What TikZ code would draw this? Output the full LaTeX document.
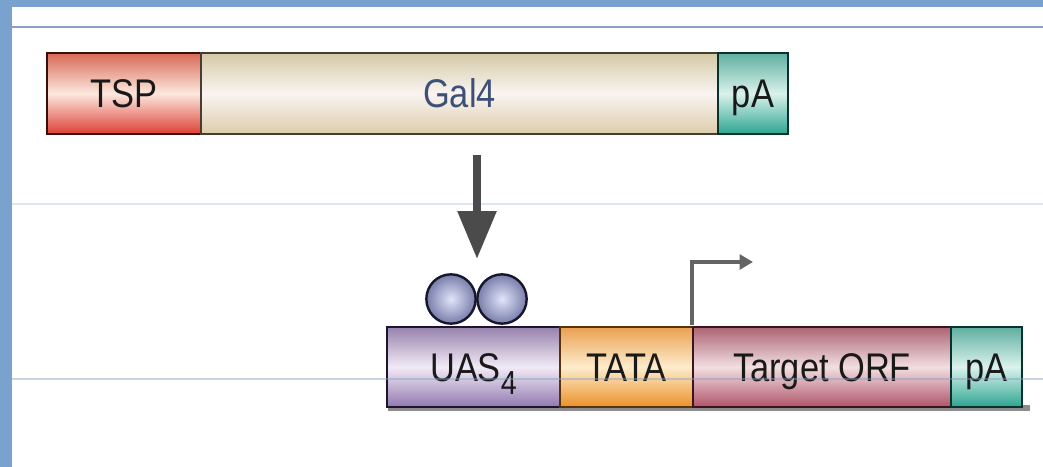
\documentclass[tikz,border=0pt]{standalone}
\usepackage{fontspec}
\setmainfont[FakeStretch=0.86]{Liberation Sans}
\usetikzlibrary{arrows.meta}
\definecolor{frameblue}{RGB}{122,162,206}
\definecolor{rulec}{RGB}{135,160,195}
\definecolor{faintc}{RGB}{222,230,240}
\definecolor{tspT}{RGB}{215,105,85}\definecolor{tspM}{RGB}{252,232,222}\definecolor{tspB}{RGB}{222,62,52}\definecolor{tspD}{RGB}{60,12,10}
\definecolor{galT}{RGB}{212,202,165}\definecolor{galM}{RGB}{250,244,242}\definecolor{galB}{RGB}{220,205,170}\definecolor{galD}{RGB}{70,62,50}
\definecolor{paT}{RGB}{95,175,160}\definecolor{paM}{RGB}{218,242,236}\definecolor{paB}{RGB}{45,165,145}\definecolor{paD}{RGB}{10,50,45}
\definecolor{uasT}{RGB}{150,130,172}\definecolor{uasM}{RGB}{242,234,246}\definecolor{uasB}{RGB}{145,120,175}\definecolor{uasD}{RGB}{30,20,50}
\definecolor{tataT}{RGB}{235,160,80}\definecolor{tataM}{RGB}{253,236,204}\definecolor{tataB}{RGB}{235,145,40}\definecolor{tataD}{RGB}{90,50,10}
\definecolor{orfT}{RGB}{172,100,115}\definecolor{orfM}{RGB}{242,222,226}\definecolor{orfB}{RGB}{175,85,105}\definecolor{orfD}{RGB}{60,20,30}
\definecolor{galtext}{RGB}{60,80,120}
\definecolor{arrowc}{RGB}{75,75,75}
\definecolor{promc}{RGB}{100,100,100}
\definecolor{ballin}{RGB}{225,228,250}
\definecolor{ballout}{RGB}{120,125,170}
\definecolor{balld}{RGB}{22,22,45}
\tikzset{
  seg/.style n args={4}{draw=#4, line width=1.8pt, rectangle, inner sep=0pt,
    top color=#1, bottom color=#3, middle color=#2,
    text height=21pt, text depth=0pt, font=\fontsize{30}{30}\selectfont, text=black!90},
  topbar/.style={minimum height=60.75pt},
  botbar/.style={minimum height=60pt},
  ball/.style={circle, draw=balld, line width=1.8pt, inner color=ballin, outer color=ballout, minimum size=37pt, inner sep=0pt},
  bigarrow/.style={draw=arrowc, line width=6pt, -{Triangle[width=28pt,length=36pt]}, arrowc},
  promarrow/.style={draw=promc, line width=3pt, -{Triangle[width=11pt,length=10pt]}, promc},
}
\begin{document}
\begin{tikzpicture}[x=0.75pt,y=-0.75pt]
\useasboundingbox (0,0) rectangle (1043,467);
% window frame
\fill[white] (0,0) rectangle (1043,467);
\fill[frameblue] (0,0) rectangle (1043,7);
\fill[frameblue] (0,0) rectangle (12,467);
\draw[rulec, line width=1pt] (12,27) -- (1043,27);
\draw[faintc, line width=1pt] (12,204) -- (1043,204);
% top construct
\node[seg={tspT}{tspM}{tspB}{tspD}, topbar, minimum width=115.5pt] (tsp) at (124,93.5) {TSP};
\node[seg={galT}{galM}{galB}{galD}, topbar, minimum width=387.75pt, text=galtext] (gal) at (459.5,93.5) {Gal4};
\node[seg={paT}{paM}{paB}{paD}, topbar, minimum width=52.5pt] (pa1) at (753,93.5) {pA};
% shadow under bottom construct
\fill[black!45] (388,405) rectangle (1030,411);
% bottom construct
\node[seg={uasT}{uasM}{uasB}{uasD}, botbar, minimum width=129.75pt] (uas) at (473.5,367) {UAS\raisebox{-10pt}{\fontsize{25}{25}\selectfont 4}};
\node[seg={tataT}{tataM}{tataB}{tataD}, botbar, minimum width=99.75pt] (tata) at (626.5,367) {TATA};
\node[seg={orfT}{orfM}{orfB}{orfD}, botbar, minimum width=193.5pt] (orf) at (822,367) {Target ORF};
\node[seg={paT}{paM}{paB}{paD}, botbar, minimum width=53.25pt] (pa2) at (986.5,367) {pA};
% Gal4 dimer
\node[ball] (b1) at (451,299) {};
\node[ball] (b2) at (502,299) {};
% big arrow
\coordinate (astart) at (477,155);
\coordinate (aend) at (477,259);
\draw[bigarrow] (astart) -- (aend);
% promoter arrow
\coordinate (pend) at (753,262);
\draw[promarrow] (orf.north west) ++(0,-0.5) |- (pend);
% faint page rule across
\draw[rulec, line width=1pt, opacity=0.45] (12,379) -- (1043,379);
\end{tikzpicture}
\end{document}
